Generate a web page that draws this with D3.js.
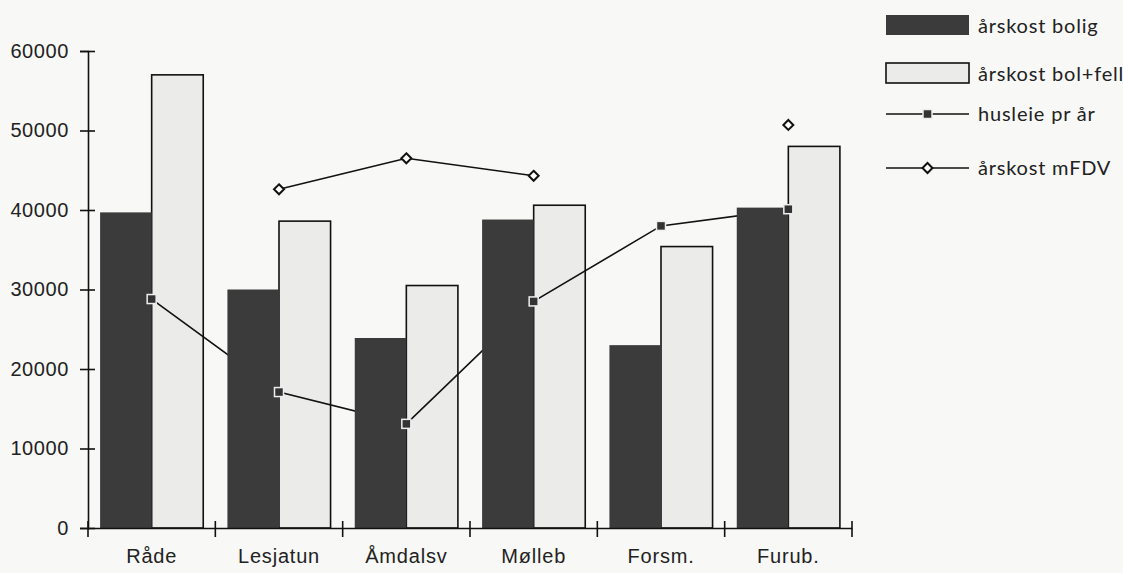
<!DOCTYPE html>
<html>
<head>
<meta charset="utf-8">
<script src="https://cdn.jsdelivr.net/npm/d3@7"></script>
<style>
  body { margin: 0; background: #f8f8f6; }
  svg { display: block; font-family: "Century Gothic", Lato, "Noto Sans", sans-serif; }
</style>
</head>
<body>
<div id="chart"></div>
<script>
const categories = ["Råde", "Lesjatun", "Åmdalsv", "Mølleb", "Forsm.", "Furub."];
const arskostBolig = [39700, 30000, 23900, 38800, 23000, 40300];
const arskostBolFell = [57000, 38600, 30500, 40600, 35400, 48000];
const husleiePrAr = [28800, 17100, 13100, 28500, 38000, 40100];
const arskostMFDV = [null, 42600, 46500, 44300, null, 50700];
const yTicks = [0, 10000, 20000, 30000, 40000, 50000, 60000];

const width = 1123;
const height = 573;
const margin = {top: 51, left: 88, right: 271, bottom: 45};

const svg = d3.select("#chart").append("svg")
  .attr("width", width)
  .attr("height", height);

const x = d3.scaleBand()
  .domain(categories)
  .range([margin.left, width - margin.right])
  .paddingInner(0.19)
  .paddingOuter(0.095);

const y = d3.scaleLinear()
  .domain([0, 60000])
  .range([height - margin.bottom, margin.top]);

const sub = d3.scaleBand()
  .domain(["bolig", "fell"])
  .range([0, x.bandwidth()]);

const dark = "#3b3b3b";
const light = "#ebebea";

// light bars first, so the husleie line shows over them
svg.append("g")
  .selectAll("rect")
  .data(arskostBolFell)
  .join("rect")
  .attr("x", (d, i) => x(categories[i]) + sub("fell"))
  .attr("y", d => y(d))
  .attr("width", sub.bandwidth())
  .attr("height", d => y(0) - y(d))
  .attr("fill", light)
  .attr("stroke", "#111")
  .attr("stroke-width", 1.6);

const center = (i) => x(categories[i]) + x.bandwidth() / 2;

const husleieLine = d3.line()
  .x((d, i) => center(i))
  .y(d => y(d));

svg.append("path")
  .datum(husleiePrAr)
  .attr("fill", "none")
  .attr("stroke", "#111")
  .attr("stroke-width", 1.6)
  .attr("d", husleieLine);

// dark bars
svg.append("g")
  .selectAll("rect")
  .data(arskostBolig)
  .join("rect")
  .attr("x", (d, i) => x(categories[i]) + sub("bolig"))
  .attr("y", d => y(d))
  .attr("width", sub.bandwidth())
  .attr("height", d => y(0) - y(d))
  .attr("fill", dark);

// mFDV line, gaps where no value
const mfdvLine = d3.line()
  .defined(d => d != null)
  .x((d, i) => center(i))
  .y(d => y(d));

svg.append("path")
  .datum(arskostMFDV)
  .attr("fill", "none")
  .attr("stroke", "#111")
  .attr("stroke-width", 1.6)
  .attr("d", mfdvLine);

function square(g, cx, cy) {
  g.append("rect")
    .attr("x", cx - 4.5).attr("y", cy - 4.5)
    .attr("width", 9).attr("height", 9)
    .attr("fill", "#333")
    .attr("stroke", "#eee")
    .attr("stroke-width", 1.5);
}

function diamond(g, cx, cy) {
  g.append("path")
    .attr("d", `M${cx},${cy - 5}L${cx + 5},${cy}L${cx},${cy + 5}L${cx - 5},${cy}Z`)
    .attr("fill", "#fff")
    .attr("stroke", "#111")
    .attr("stroke-width", 2);
}

const markers = svg.append("g");
husleiePrAr.forEach((d, i) => square(markers, center(i), y(d)));
arskostMFDV.forEach((d, i) => { if (d != null) diamond(markers, center(i), y(d)); });

// y axis
const yAxis = svg.append("g")
  .attr("transform", `translate(${margin.left},0)`)
  .call(d3.axisLeft(y).tickValues(yTicks).tickSize(8).tickPadding(11).tickFormat(d3.format("d")));
yAxis.select(".domain").attr("stroke", "#111").attr("stroke-width", 1.6);
yAxis.selectAll(".tick line").attr("x2", -8).attr("x1", 7).attr("stroke", "#111").attr("stroke-width", 1.6);
yAxis.selectAll(".tick text").attr("font-size", 20).attr("letter-spacing", 0.6).attr("fill", "#222");

// x axis
const xAxis = svg.append("g")
  .attr("transform", `translate(0,${y(0)})`)
  .call(d3.axisBottom(x).tickSize(0).tickPadding(21));
xAxis.select(".domain").attr("stroke", "#111").attr("stroke-width", 1.6);
xAxis.selectAll(".tick text").attr("font-size", 20).attr("letter-spacing", 0.8).attr("fill", "#222");

// category boundary ticks
const bounds = d3.range(categories.length + 1).map(i => margin.left + i * (x.range()[1] - x.range()[0]) / categories.length);
xAxis.selectAll(".bound")
  .data(bounds)
  .join("line")
  .attr("x1", d => d).attr("x2", d => d)
  .attr("y1", -7).attr("y2", 9)
  .attr("stroke", "#111")
  .attr("stroke-width", 1.6);

// legend
const legend = svg.append("g").attr("font-size", 20).attr("letter-spacing", 0.8).attr("fill", "#222");
const lx = 886, lw = 83, tx = 978;

legend.append("rect").attr("x", lx).attr("y", 15).attr("width", lw).attr("height", 20).attr("fill", dark);
legend.append("text").attr("x", tx).attr("y", 33).text("årskost bolig");

legend.append("rect").attr("x", lx).attr("y", 63).attr("width", lw).attr("height", 20)
  .attr("fill", light).attr("stroke", "#111").attr("stroke-width", 1.6);
legend.append("text").attr("x", tx).attr("y", 81).text("årskost bol+fell");

legend.append("line").attr("x1", lx).attr("x2", lx + lw).attr("y1", 114).attr("y2", 114)
  .attr("stroke", "#111").attr("stroke-width", 1.6);
square(legend, lx + lw / 2, 114);
legend.append("text").attr("x", tx).attr("y", 121).text("husleie pr år");

legend.append("line").attr("x1", lx).attr("x2", lx + lw).attr("y1", 168).attr("y2", 168)
  .attr("stroke", "#111").attr("stroke-width", 1.6);
diamond(legend, lx + lw / 2, 168);
legend.append("text").attr("x", tx).attr("y", 175).text("årskost mFDV");
</script>
</body>
</html>
